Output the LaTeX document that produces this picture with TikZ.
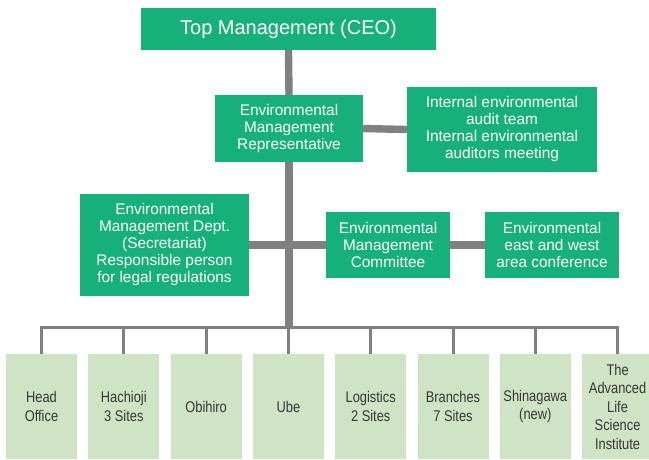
\documentclass[tikz,border=0pt]{standalone}
\usepackage{fontspec}
\setmainfont{Liberation Sans}
\newfontfamily\narrowfont[FakeStretch=0.83]{Liberation Sans}
\usetikzlibrary{positioning}
\definecolor{mgreen}{RGB}{22,176,122}
\definecolor{lgreen}{RGB}{206,228,196}
\definecolor{linegray}{RGB}{128,128,128}
\definecolor{sitetext}{RGB}{55,55,55}
\tikzset{
  unit/.style={fill=mgreen, text=white, align=center, inner sep=0pt,
    font=\fontsize{15.4}{17}\selectfont},
  site/.style={fill=lgreen, text=sitetext, align=center, inner sep=0pt,
    minimum width=71pt, minimum height=105pt,
    font=\narrowfont\fontsize{15.5}{18.5}\selectfont},
  trunk/.style={draw=linegray, line width=7.4pt},
  branch/.style={draw=linegray, line width=3pt},
}
\begin{document}
\begin{tikzpicture}[x=1pt,y=-1pt]
      \clip (0,0) rectangle (649,459);
      % management boxes
      \node[unit, minimum width=295pt, minimum height=42pt, font=\fontsize{20}{24}\selectfont] (ceo) at (288.5,29) {\raisebox{-1.5pt}{Top Management (CEO)}};
      \node[unit, minimum width=148pt, minimum height=67pt] (rep) at (289,128.5) {Environmental\\Management\\Representative};
      \node[unit, minimum width=190pt, minimum height=85pt] (audit) at (502,129.5) {Internal environmental\\audit team\\Internal environmental\\auditors meeting};
      \node[unit, minimum width=169pt, minimum height=102pt] (dept) at (164.5,245) {Environmental\\Management Dept.\\(Secretariat)\\Responsible person\\for legal regulations};
      \node[unit, minimum width=124pt, minimum height=66pt] (committee) at (388,245) {Environmental\\Management\\Committee};
      \node[unit, minimum width=134pt, minimum height=66pt] (eastwest) at (552,245) {Environmental\\east and west\\area conference};
      % sites
      \foreach \name/\label [count=\i] in {hq/{Head\\Office}, hachioji/{Hachioji\\3 Sites}, obihiro/{Obihiro}, ube/{Ube}, logistics/{Logistics\\2 Sites}, branches/{Branches\\7 Sites}, shinagawa/{Shinagawa\\(new)}, alsi/{The\\Advanced\\Life\\Science\\Institute}}
        \node[site] (s\i) at ({41.5+82.3*(\i-1)},406.5) {\label};
      % connectors
      \coordinate (bar) at (289,327.5);
      \coordinate (hub) at (289,329);
      \draw[trunk] (ceo.south) -- (rep.north);
      \draw[trunk] (rep.south) -- (hub);
      \draw[trunk] (rep.east) -- (audit.west);
      \draw[trunk] (dept.east) -- (committee.west);
      \draw[trunk] (committee.east) -- (eastwest.west);
      \draw[branch] (s1.north) |- (bar) -| (s8.north);
      \foreach \i in {2,...,7}
        \draw[branch] (s\i.north) -- (s\i.north |- bar);
\end{tikzpicture}
\end{document}
